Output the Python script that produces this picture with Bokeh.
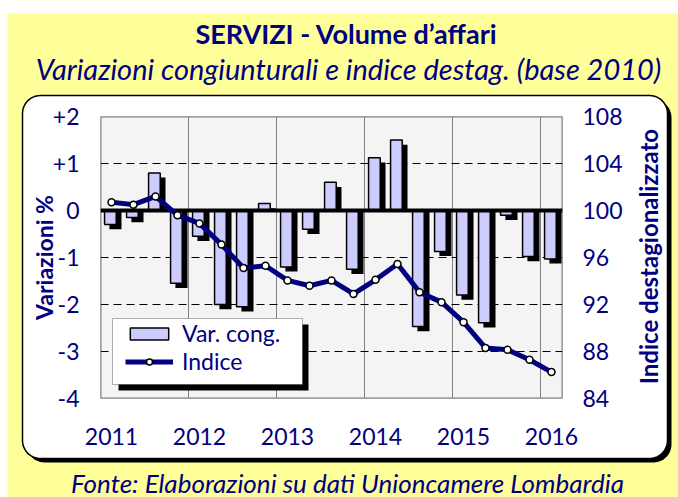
import math
import numpy as np
from bokeh.plotting import figure
from bokeh.models import (Range1d, LinearAxis, FixedTicker, BoxAnnotation,
                          Legend, LegendItem, Span)
from bokeh.core.properties import value
from bokeh.embed import file_html
from bokeh.resources import INLINE

# ---------------- data ----------------
quarters = list(range(21))  # 2011-Q1 ... 2016-Q1
var_cong = [-0.30, -0.15, 0.80, -1.55, -0.55, -2.00, -2.05, 0.15, -1.20, -0.40, 0.60,
            -1.25, 1.12, 1.50, -2.47, -0.87, -1.80, -2.39, -0.10, -0.98, -1.03]
indice = [100.7, 100.5, 101.2, 99.6, 98.9, 97.1, 95.1, 95.3, 94.05, 93.6, 94.05,
          92.9, 94.1, 95.45, 93.05, 92.2, 90.5, 88.3, 88.15, 87.3, 86.25]
year_ticks = [0, 4, 8, 12, 16, 20]
year_labels = ["2011", "2012", "2013", "2014", "2015", "2016"]
left_ticks = [-4, -3, -2, -1, 0, 1, 2]
left_labels = ["-4", "-3", "-2", "-1", "0", "+1", "+2"]
right_ticks = [84, 88, 92, 96, 100, 104, 108]
right_labels = ["84", "88", "92", "96", "100", "104", "108"]
grid_y = [-3, -2, -1, 1]
grid_x = [3.5, 7.5, 11.5, 15.5, 19.5]

title_text = "SERVIZI - Volume d\u2019affari"
subtitle_text = "Variazioni congiunturali e indice destag. (base 2010)"
footer_text = "Fonte: Elaborazioni su dati Unioncamere Lombardia"
left_title = "Variazioni %"
right_title = "Indice destagionalizzato"

NAVY = "#000080"
YELLOW = "#FFFF99"
FONT = "Lato"

x = np.array(quarters, dtype=float)
v = np.array(var_cong)
shadow_top = np.where(v > 0, v - 0.1, 0.0)
shadow_bottom = np.where(v > 0, 0.0, v - 0.1)

# frame placement in page pixels
FL, FR, FT, FB = 100, 562, 116, 398
W, H = 678, 497

p = figure(width=W, height=H, x_range=Range1d(-0.5, 20.5), y_range=Range1d(-4, 2),
           output_backend="svg", toolbar_location=None,
           min_border_left=FL, min_border_right=W - FR, min_border_top=FT, min_border_bottom=H - FB,
           background_fill_color="#F4F4F4", border_fill_color=YELLOW,
           outline_line_color="#808080", outline_line_width=2)
p.extra_y_ranges = {"idx": Range1d(84, 108), "py": Range1d(FB, FT)}
p.extra_x_ranges = {"px": Range1d(FL, FR)}
PX = dict(x_range_name="px", y_range_name="py")


def rrect(x0, y0, x1, y1, r, n=12):
    xs, ys = [], []
    for cx, cy, a0, a1 in [(x1 - r, y0 + r, -90, 0), (x1 - r, y1 - r, 0, 90),
                           (x0 + r, y1 - r, 90, 180), (x0 + r, y0 + r, 180, 270)]:
        for t in np.radians(np.linspace(a0, a1, n)):
            xs.append(cx + r * math.cos(t))
            ys.append(cy + r * math.sin(t))
    return xs, ys


hole_x = [FL, FR, FR, FL]
hole_y = [FT, FT, FB, FB]

# ---- decorative panel (page background, white rounded panel with shadow) ----
p.quad(left=[0, 0], right=[W, 7], top=[0, 0], bottom=[13, H], fill_color="white",
       line_color=None, level="guide", **PX)
sx, sy = rrect(26, 99, 671, 462, 18)
p.multi_polygons(xs=[[[sx, hole_x]]], ys=[[[sy, hole_y]]], fill_color="black",
                 line_color=None, level="guide", **PX)
wx, wy = rrect(22, 95, 667, 458, 18)
p.multi_polygons(xs=[[[wx, hole_x]]], ys=[[[wy, hole_y]]], fill_color="white",
                 line_color=None, level="guide", **PX)
p.line(x=wx + wx[:1], y=wy + wy[:1], line_color="black", line_width=1.5, level="guide", **PX)

# ---- grids ----
p.ygrid.ticker = FixedTicker(ticks=grid_y)
p.ygrid.grid_line_color = "black"
p.ygrid.grid_line_dash = "8 5"
p.ygrid.grid_line_width = 1
p.xgrid.ticker = FixedTicker(ticks=grid_x)
p.xgrid.grid_line_color = "#808080"
p.xgrid.grid_line_width = 1


def style_axis(ax, standoff):
    ax.level = "overlay"
    ax.axis_line_color = None
    ax.major_tick_line_color = None
    ax.minor_tick_line_color = None
    ax.major_tick_out = 0
    ax.major_tick_in = 0
    ax.minor_tick_out = 0
    ax.minor_tick_in = 0
    ax.major_label_text_font = FONT
    ax.major_label_text_font_size = "23px"
    ax.major_label_text_color = NAVY
    ax.major_label_standoff = standoff
    ax.axis_label_text_font = FONT
    ax.axis_label_text_font_style = "bold"
    ax.axis_label_text_font_size = "23px"
    ax.axis_label_text_color = NAVY


p.xaxis.ticker = FixedTicker(ticks=year_ticks)
p.xaxis.major_label_overrides = dict(zip(year_ticks, year_labels))
style_axis(p.xaxis[0], 29)
p.yaxis.ticker = FixedTicker(ticks=left_ticks)
p.yaxis.major_label_overrides = dict(zip(left_ticks, left_labels))
p.yaxis.axis_label = left_title
style_axis(p.yaxis[0], 21)
p.yaxis.axis_label_standoff = -8

rax = LinearAxis(y_range_name="idx", ticker=FixedTicker(ticks=right_ticks),
                 major_label_overrides=dict(zip(right_ticks, right_labels)))
style_axis(rax, 20)
p.add_layout(rax, "right")

# ---- bars with shadow ----
p.vbar(x=x + 0.18, width=0.55, top=shadow_top, bottom=shadow_bottom, fill_color="black",
       line_color=None)
bars = p.vbar(x=x - 0.05, width=0.53, top=v, bottom=0, fill_color="#CCCCFF",
              line_color="black", line_width=1.5)

p.add_layout(Span(location=0, dimension="width", line_color="black", line_width=4))

ln = p.line(x, indice, y_range_name="idx", line_color=NAVY, line_width=5, line_join="round",
            level="overlay")
mk = p.scatter(x, indice, y_range_name="idx", size=7, fill_color="white", line_color="black",
               line_width=1.5, level="overlay")

# ---- legend box + shadow ----
C = dict(left_units="canvas", right_units="canvas", top_units="canvas", bottom_units="canvas")
p.add_layout(BoxAnnotation(left=118, right=308, top=324, bottom=390, fill_color="black", fill_alpha=1,
                           line_color=None, **C))
p.add_layout(BoxAnnotation(left=112, right=302, top=318, bottom=384, fill_color="white", fill_alpha=1,
                           line_color="black", line_width=1, **C))
legend = Legend(items=[LegendItem(label="Var. cong.", renderers=[bars]),
                       LegendItem(label="Indice", renderers=[ln, mk])],
                location=(25, 23), padding=4, spacing=0, margin=0,
                glyph_width=48, glyph_height=15, label_standoff=9,
                label_text_font=FONT, label_text_font_size="23px", label_text_color=NAVY,
                background_fill_alpha=0, border_line_color=None)
p.add_layout(legend)

# ---- titles, footer, right axis title ----
p.text(x=[346], y=[33], text=[title_text], text_font=value(FONT), text_font_style="bold",
       text_font_size="27px", text_color=NAVY, text_align="center", text_baseline="middle",
       level="annotation", **PX)
p.text(x=[348], y=[68], text=[subtitle_text], text_font=value(FONT), text_font_style="italic",
       text_font_size="29px", text_color=NAVY, text_align="center", text_baseline="middle",
       level="annotation", **PX)
p.text(x=[347], y=[482], text=[footer_text], text_font=value(FONT), text_font_style="italic",
       text_font_size="26px", text_color=NAVY, text_align="center", text_baseline="middle",
       level="annotation", **PX)
p.text(x=[648], y=[256], text=[right_title], angle=math.pi / 2, text_font=value(FONT),
       text_font_style="bold", text_font_size="24px", text_color=NAVY, text_align="center",
       text_baseline="middle", level="overlay", **PX)

open("out.html", "w").write(file_html(p, INLINE))
